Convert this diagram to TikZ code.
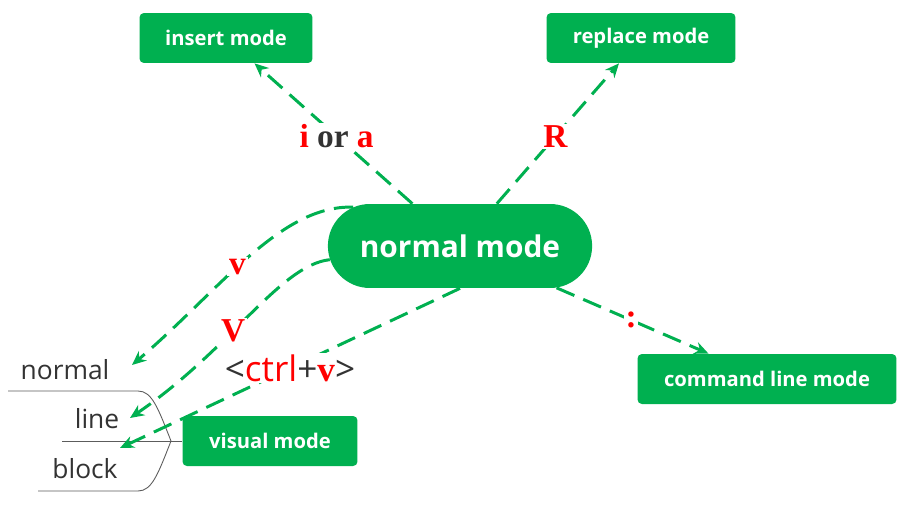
\documentclass[tikz,border=0pt]{standalone}
\usepackage{fontspec}
\setmainfont{Liberation Serif}
\setsansfont{Open Sans}
\usetikzlibrary{shapes.misc, arrows.meta, positioning}
\definecolor{modegreen}{HTML}{00B050}
\definecolor{keyred}{HTML}{FF0000}
\definecolor{darktext}{HTML}{333333}
\tikzstyle{modebox} = [rectangle, rounded corners=2.5pt, minimum height=1cm, text centered, fill=modegreen, text=white, font=\sffamily\bfseries\fontsize{11.5}{13}\selectfont]
\tikzstyle{arrow} = [draw=modegreen, line width=1.7pt, dash pattern=on 11pt off 5.5pt, -{Stealth[length=8pt,width=7pt]}]
\tikzstyle{keylabel} = [fill=white, inner sep=1pt, font=\bfseries\fontsize{19}{21}\selectfont]
\tikzstyle{visitem} = [font=\sffamily\fontsize{15}{17}\selectfont, text=darktext]
\tikzstyle{bracket} = [draw=darktext!80, line width=0.5pt]

\begin{document}
\begin{tikzpicture}[x=0.02cm, y=-0.02cm]
    \useasboundingbox [fill=white] (0,0) rectangle (915,517);

    % Normal mode
    \node (normal) [rounded rectangle, fill=modegreen, text=white, minimum width=5.52cm, minimum height=1.68cm, font=\sffamily\bfseries\fontsize{17}{19}\selectfont] at (460,246) {normal mode};

    % Other modes
    \node (insert) [modebox, minimum width=3.46cm] at (226,38) {insert mode};
    \node (replace) [modebox, minimum width=3.78cm] at (641,38) {replace mode};
    \node (command) [modebox, minimum width=5.18cm] at (767,379) {command line mode};
    \node (visual) [modebox, minimum width=3.5cm] at (270,441) {visual mode};

    % Visual sub modes
    \node (normalitem) [visitem] at (65,370) {normal};
    \node (lineitem) [visitem] at (97,419) {line};
    \node (blockitem) [visitem] at (85,469) {block};
    \coordinate (vtip) at (171,441);
    \coordinate (lineend) at (62,441);
    \draw [bracket] (8,391) -- (138,391) .. controls (152,391) and (158,408) .. (vtip)
        .. controls (158,474) and (152,491) .. (138,491) -- (38,491);
    \draw [bracket] (visual.west) -- (lineend);

    % Arrow ends
    \coordinate (tonormal) at (132,365);
    \coordinate (toline) at (130,418);
    \coordinate (toblock) at (120,448);

    % Arrows
    \draw [arrow] (normal) -- node[keylabel, pos=0.48] {\textcolor{keyred}{i} \textcolor{darktext}{or} \textcolor{keyred}{a}} (insert);
    \draw [arrow] (normal) -- node[keylabel, pos=0.48, text=keyred] {R} (replace);
    \draw [arrow] (normal) -- node[keylabel, pos=0.49, text=keyred] {:} (command);
    \draw [arrow] (normal.160) .. controls (280,205) and (220,290) .. (tonormal)
        node[keylabel, pos=0.55, text=keyred] {v};
    \draw [arrow] (normal.186) .. controls (280,265) and (230,350) .. (toline)
        node[keylabel, pos=0.58, text=keyred] {V};
    \draw [arrow] (normal.south) -- node[keylabel, pos=0.5, font=\fontsize{20}{22}\selectfont]
        {{\sffamily\color{darktext}<}{\sffamily\color{keyred}ctrl}{\sffamily\color{darktext}+}{\bfseries\color{keyred}v}{\sffamily\color{darktext}>}} (toblock);
\end{tikzpicture}
\end{document}
